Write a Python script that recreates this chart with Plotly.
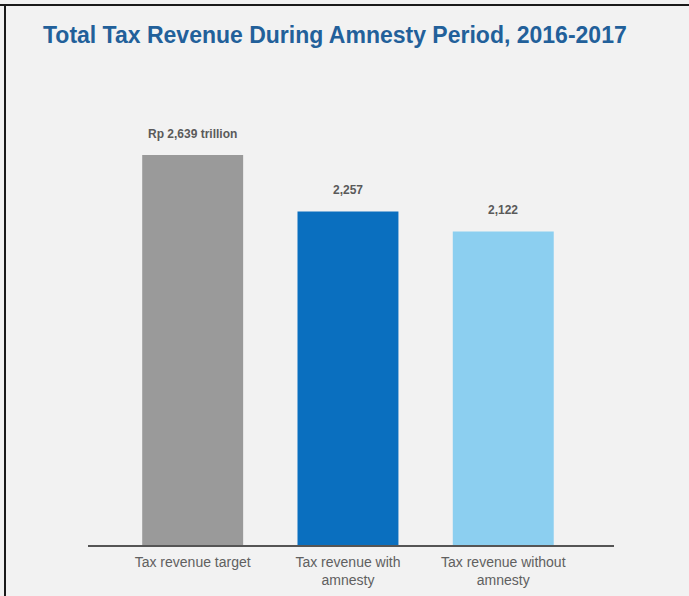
import plotly.graph_objects as go

categories = ["Tax revenue target", "Tax revenue with<br>amnesty", "Tax revenue without<br>amnesty"]
values = [2639, 2257, 2122]
value_labels = ["Rp 2,639 trillion", "2,257", "2,122"]
colors = ["#9a9a9a", "#0a6fbf", "#8ccff0"]

W, H = 689, 596
L, R, T, B = 88, 689 - 614, 100, 596 - 545
pw, ph = W - L - R, H - T - B

fig = go.Figure()
fig.add_trace(go.Bar(
    x=list(range(len(categories))), y=values,
    marker=dict(color=colors, line=dict(width=0)),
    width=0.65, hoverinfo="skip",
))

for i, (v, lab) in enumerate(zip(values, value_labels)):
    fig.add_annotation(x=i, y=v, text="<b>" + lab + "</b>", showarrow=False, yshift=21,
                       font=dict(family="Liberation Sans, Arial", size=12, color="#5a5a5a"),
                       xanchor="center", yanchor="middle")

def px_x(p):
    return (p - L) / pw

def px_y(p):
    return (H - B - p) / ph

fig.add_shape(type="line", xref="paper", yref="paper",
              x0=px_x(0), x1=px_x(W), y0=px_y(5), y1=px_y(5),
              line=dict(color="#1a1a1a", width=2))
fig.add_shape(type="line", xref="paper", yref="paper",
              x0=px_x(5), x1=px_x(5), y0=px_y(5), y1=px_y(H + 10),
              line=dict(color="#1a1a1a", width=2))

fig.update_layout(
    width=W, height=H,
    margin=dict(l=L, r=R, t=T, b=B, autoexpand=False),
    paper_bgcolor="#f2f2f2", plot_bgcolor="#f2f2f2",
    showlegend=False,
    title=dict(text="<b>Total Tax Revenue During Amnesty Period, 2016-2017</b>",
               x=43 / W, xanchor="left", y=1 - 35 / H, yanchor="middle",
               font=dict(family="Liberation Sans, Arial", size=23, color="#22609a")),
    xaxis=dict(tickvals=list(range(len(categories))), ticktext=categories,
               range=[-0.674, 2.713], showline=True, linecolor="#555555", linewidth=1.5,
               showgrid=False, zeroline=False, ticks="", ticklabelstandoff=3, automargin=False,
               tickfont=dict(family="Liberation Sans, Arial", size=14, color="#606060")),
    yaxis=dict(range=[0, 3011], visible=False, showgrid=False, zeroline=False, automargin=False),
)

fig.write_html("out.html", config={"displayModeBar": False},
               post_script="document.body.style.margin='0px';document.body.style.overflow='hidden';")
